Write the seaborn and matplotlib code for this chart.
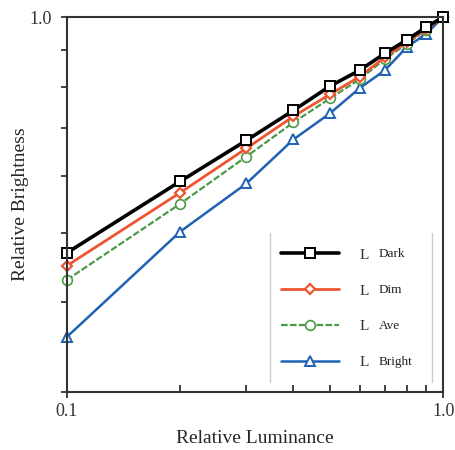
import numpy as np
import pandas as pd
import seaborn as sns
import matplotlib.pyplot as plt
from matplotlib.ticker import FixedLocator, NullLocator, NullFormatter

# =============================================================================
# Data
# =============================================================================

luminance = [0.1, 0.2, 0.3, 0.4, 0.5, 0.6, 0.7, 0.8, 0.9, 1.0]

dark = [0.469, 0.590, 0.673, 0.741, 0.801, 0.843, 0.890, 0.929, 0.968, 1.0]
dim = [0.450, 0.569, 0.656, 0.727, 0.780, 0.826, 0.879, 0.922, 0.962, 1.0]
ave = [0.430, 0.549, 0.639, 0.713, 0.770, 0.819, 0.874, 0.917, 0.959, 1.0]
bright = [0.358, 0.502, 0.586, 0.675, 0.734, 0.796, 0.843, 0.908, 0.947, 1.0]

series_names = ["Dark", "Dim", "Ave", "Bright"]
y_ticks = [0.3, 0.4, 0.5, 0.6, 0.7, 0.8, 0.9, 1.0]

df = pd.DataFrame({"Luminance": luminance, "Dark": dark, "Dim": dim,
                   "Ave": ave, "Bright": bright})

# =============================================================================
# Style
# =============================================================================

sns.set_style("ticks")
plt.rcParams["font.family"] = ["Liberation Serif", "DejaVu Serif"]
plt.rcParams["text.color"] = "#333333"

styles = {
    "Dark": dict(color="black", lw=2.6, ls="-", marker="s", ms=7.8, mew=1.4),
    "Dim": dict(color="#EE5530", lw=2.0, ls="-", marker="D", ms=4.8, mew=1.6),
    "Ave": dict(color="#4C9A48", lw=1.6, ls=(0, (3, 1)), marker="o", ms=7.0, mew=1.2),
    "Bright": dict(color="#2062B4", lw=1.8, ls="-", marker="^", ms=7.5, mew=1.4),
}

fig, ax = plt.subplots(figsize=(4.55, 4.5), dpi=100)
fig.subplots_adjust(left=0.147, right=0.974, top=0.962, bottom=0.129)

# draw bright first so dark ends up on top
handles = {}
for name in ["Bright", "Ave", "Dim", "Dark"]:
    st = styles[name]
    sns.lineplot(
        data=df, x="Luminance", y=name, ax=ax,
        color=st["color"], linewidth=st["lw"], linestyle=st["ls"],
        marker=st["marker"], markersize=st["ms"], markeredgewidth=st["mew"],
        markerfacecolor="white", markeredgecolor=st["color"],
        clip_on=False,
    )
    handles[name] = ax.get_lines()[-1]

ax.set_xscale("log")
ax.set_yscale("log")
ax.set_xlim(0.1, 1.0)
ax.set_ylim(0.3, 1.0)

# x axis: labels only at the ends, inward minor ticks
ax.xaxis.set_major_locator(FixedLocator([0.1, 1.0]))
ax.set_xticklabels(["0.1", "1.0"])
ax.xaxis.set_minor_locator(FixedLocator([0.2, 0.3, 0.4, 0.5, 0.6, 0.7, 0.8, 0.9]))
ax.xaxis.set_minor_formatter(NullFormatter())
ax.tick_params(axis="x", which="major", direction="inout", length=8, width=1.3,
               labelsize=13, colors="#333333", pad=4)
ax.tick_params(axis="x", which="minor", direction="in", length=5, width=1.3,
               colors="#333333")

# y axis: outward ticks, only the top one labelled
ax.yaxis.set_major_locator(FixedLocator(y_ticks))
ax.set_yticklabels(["" if t < 1.0 else "1.0" for t in y_ticks])
ax.yaxis.set_minor_locator(NullLocator())
ax.tick_params(axis="y", which="major", direction="out", length=4, width=1.3,
               labelsize=13, colors="#333333", pad=7)

for sp in ax.spines.values():
    sp.set_linewidth(1.5)
    sp.set_color("#333333")

ax.set_xlabel("Relative Luminance", fontsize=14, labelpad=7)
ax.set_ylabel("Relative Brightness", fontsize=14, labelpad=0)

# =============================================================================
# Legend
# =============================================================================

leg = ax.legend(
    [handles[n] for n in series_names], ["L"] * 4,
    loc="upper left", bbox_to_anchor=(0.569, 0.384),
    frameon=False, fontsize=11, handlelength=3.8, handletextpad=1.35,
    labelspacing=1.45, borderpad=0, borderaxespad=0,
)

# light vertical rules at each side of the legend
ax.plot([0.540, 0.540], [0.027, 0.424], color="#cccccc", lw=1.0,
        transform=ax.transAxes, clip_on=False)
ax.plot([0.971, 0.971], [0.027, 0.424], color="#cccccc", lw=1.0,
        transform=ax.transAxes, clip_on=False)

fig.canvas.draw()
inv = ax.transAxes.inverted()
for txt, name in zip(leg.get_texts(), series_names):
    bb = txt.get_window_extent()
    x0, y0 = inv.transform((bb.x1 + 10, (bb.y0 + bb.y1) / 2 + 1))
    ax.text(x0, y0, name, transform=ax.transAxes, fontsize=9.5,
            ha="left", va="center", color="#222222")

plt.savefig("out.png", dpi=100)
